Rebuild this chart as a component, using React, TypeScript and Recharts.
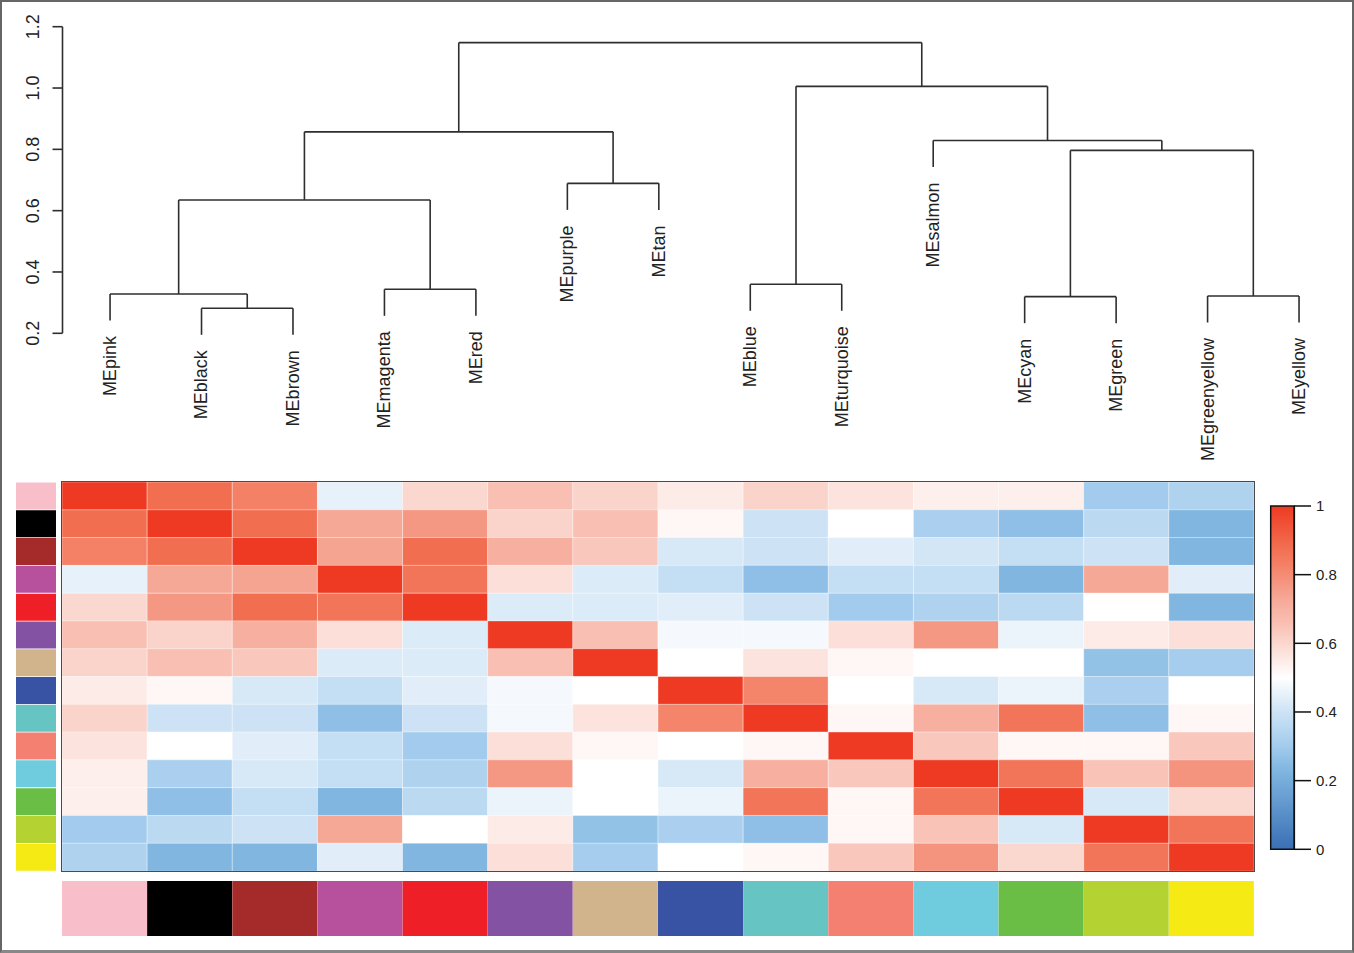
import { BarChart, Bar, Cell, ComposedChart, Scatter, XAxis, YAxis, ReferenceLine, ReferenceDot, ReferenceArea } from 'recharts'

// module eigengenes, in dendrogram / heatmap order
const moduleNames = [
  'MEpink', 'MEblack', 'MEbrown', 'MEmagenta', 'MEred', 'MEpurple', 'MEtan',
  'MEblue', 'MEturquoise', 'MEsalmon', 'MEcyan', 'MEgreen', 'MEgreenyellow', 'MEyellow',
]
const moduleColors = [
  '#F8BFCB', '#000000', '#A52A2A', '#B7509D', '#EE1F26', '#8452A2', '#D2B48C',
  '#3953A4', '#66C5C2', '#F48072', '#6FCBDE', '#6ABD45', '#B4D333', '#F6EA14',
]

// dendrogram merges: [left, right, height]; a number points to an earlier merge
type Ref = string | number
const merges: [Ref, Ref, number][] = [
  ['MEblack', 'MEbrown', 0.2815],
  ['MEpink', 0, 0.328],
  ['MEmagenta', 'MEred', 0.3435],
  [1, 2, 0.635],
  ['MEpurple', 'MEtan', 0.689],
  [3, 4, 0.857],
  ['MEblue', 'MEturquoise', 0.36],
  ['MEcyan', 'MEgreen', 0.3195],
  ['MEgreenyellow', 'MEyellow', 0.3217],
  [7, 8, 0.7967],
  ['MEsalmon', 9, 0.829],
  [6, 10, 1.0054],
  [5, 11, 1.148],
]
const HANG = 0.0865
const heightTicks = [0.2, 0.4, 0.6, 0.8, 1.0, 1.2]

// eigengene adjacency, one row per module
const pinkRow = [1, 0.88, 0.83, 0.45, 0.6, 0.66, 0.61, 0.55, 0.61, 0.57, 0.54, 0.54, 0.3, 0.33]
const blackRow = [0.88, 1, 0.88, 0.73, 0.77, 0.61, 0.66, 0.52, 0.4, 0.5, 0.32, 0.26, 0.36, 0.23]
const brownRow = [0.83, 0.88, 1, 0.74, 0.88, 0.71, 0.64, 0.42, 0.4, 0.44, 0.41, 0.38, 0.4, 0.23]
const magentaRow = [0.45, 0.73, 0.74, 1, 0.86, 0.58, 0.43, 0.38, 0.26, 0.38, 0.38, 0.23, 0.73, 0.44]
const redRow = [0.6, 0.77, 0.88, 0.86, 1, 0.43, 0.43, 0.44, 0.4, 0.3, 0.33, 0.36, 0.5, 0.23]
const purpleRow = [0.66, 0.61, 0.71, 0.58, 0.43, 1, 0.66, 0.48, 0.48, 0.58, 0.77, 0.46, 0.55, 0.58]
const tanRow = [0.61, 0.66, 0.64, 0.43, 0.43, 0.66, 1, 0.5, 0.57, 0.52, 0.5, 0.5, 0.27, 0.31]
const blueRow = [0.55, 0.52, 0.42, 0.38, 0.44, 0.48, 0.5, 1, 0.82, 0.5, 0.42, 0.46, 0.32, 0.5]
const turquoiseRow = [0.61, 0.4, 0.4, 0.26, 0.4, 0.48, 0.57, 0.82, 1, 0.52, 0.71, 0.86, 0.26, 0.52]
const salmonRow = [0.57, 0.5, 0.44, 0.38, 0.3, 0.58, 0.52, 0.5, 0.52, 1, 0.64, 0.52, 0.52, 0.64]
const cyanRow = [0.54, 0.32, 0.42, 0.38, 0.33, 0.77, 0.5, 0.42, 0.71, 0.64, 1, 0.86, 0.65, 0.78]
const greenRow = [0.54, 0.26, 0.38, 0.23, 0.36, 0.46, 0.5, 0.46, 0.86, 0.52, 0.86, 1, 0.42, 0.6]
const greenyellowRow = [0.3, 0.36, 0.4, 0.73, 0.5, 0.55, 0.27, 0.32, 0.26, 0.52, 0.65, 0.42, 1, 0.86]
const yellowRow = [0.33, 0.23, 0.23, 0.44, 0.23, 0.58, 0.31, 0.5, 0.52, 0.64, 0.78, 0.6, 0.86, 1]
const heatRows = [
  pinkRow, blackRow, brownRow, magentaRow, redRow, purpleRow, tanRow,
  blueRow, turquoiseRow, salmonRow, cyanRow, greenRow, greenyellowRow, yellowRow,
]

const legendTicks = [0, 0.2, 0.4, 0.6, 0.8, 1]
const colorStops: [number, string][] = [
  [0, '#3A70B5'], [0.23, '#80B6E0'], [0.3, '#A2CBED'], [0.4, '#CDE3F5'], [0.5, '#FFFFFF'],
  [0.61, '#FAD3CA'], [0.66, '#F9BFB2'], [0.73, '#F6A897'], [0.82, '#F4846A'], [0.88, '#F26E50'], [1, '#EE3A23'],
]

const LINE = '#2e2e2e'
const FONT = '"Liberation Sans", Arial, sans-serif'

function hexRgb(h: string) {
  return [1, 3, 5].map((i) => parseInt(h.slice(i, i + 2), 16))
}

function corrColor(v: number) {
  for (let k = 1; k < colorStops.length; k++) {
    const [v1, c1] = colorStops[k]
    const [v0, c0] = colorStops[k - 1]
    if (v <= v1) {
      const t = (v - v0) / (v1 - v0)
      const a = hexRgb(c0), b = hexRgb(c1)
      const rgb = a.map((x, i) => Math.round(x + (b[i] - x) * t))
      return `rgb(${rgb.join(',')})`
    }
  }
  return colorStops[colorStops.length - 1][1]
}

// build dendrogram segments from the merge list
const nodeX: number[] = []
const segments: { x: number; y: number }[][] = []
const leafEnds: { name: string; x: number; y: number }[] = []
const treeNodes: { x: number; y: number }[] = []
const xOf = (r: Ref) => (typeof r === 'string' ? moduleNames.indexOf(r) + 1 : nodeX[r])
merges.forEach(([a, b, h], i) => {
  const xa = xOf(a)
  const xb = xOf(b)
  nodeX[i] = (xa + xb) / 2
  treeNodes.push({ x: nodeX[i], y: h })
  const ya = typeof a === 'string' ? h - HANG : merges[a][2]
  const yb = typeof b === 'string' ? h - HANG : merges[b][2]
  if (typeof a === 'string') leafEnds.push({ name: a, x: xa, y: ya })
  if (typeof b === 'string') leafEnds.push({ name: b, x: xb, y: yb })
  segments.push([{ x: xa, y: ya }, { x: xa, y: h }])
  segments.push([{ x: xa, y: h }, { x: xb, y: h }])
  segments.push([{ x: xb, y: h }, { x: xb, y: yb }])
})

const heatTable = moduleNames.map((name) => {
  const row: Record<string, string | number> = { name }
  moduleNames.forEach((c) => { row[c] = 1 })
  return row
})
const keyTable = moduleNames.map((name) => ({ name, v: 1 }))

function HeightTick(props: any) {
  const { x, y, payload } = props
  const bx = x - 11
  return (
    <text x={bx} y={y} transform={`rotate(-90, ${bx}, ${y})`} textAnchor="middle" fontSize={18} fill="#222">
      {payload.value.toFixed(1)}
    </text>
  )
}

export default function App() {
  return (
    <div style={{ position: 'absolute', left: 0, top: 0, width: 1354, height: 953, background: '#fff', fontFamily: FONT }}>
      <div style={{ position: 'absolute', left: 0, top: 0 }}>
        <ComposedChart width={1354} height={470} margin={{ top: 26.7, right: 7.4, bottom: 136.7, left: 0 }}>
          <XAxis type="number" dataKey="x" domain={[0.48, 14.52]} allowDataOverflow hide />
          <YAxis
            type="number"
            dataKey="y"
            domain={[0.2, 1.2]}
            ticks={heightTicks}
            allowDataOverflow
            width={62.5}
            tickSize={10}
            axisLine={{ stroke: LINE, strokeWidth: 1.6 }}
            tickLine={{ stroke: LINE, strokeWidth: 1.6 }}
            tick={<HeightTick />}
          />
          <Scatter data={treeNodes} isAnimationActive={false} shape={() => <g />} />
          {segments.map((s, i) => (
            <ReferenceLine key={i} segment={s} stroke={LINE} strokeWidth={1.6} ifOverflow="visible" />
          ))}
          {leafEnds.map((l) => (
            <ReferenceDot
              key={l.name}
              x={l.x}
              y={l.y}
              r={0}
              ifOverflow="visible"
              shape={(p: any) => (
                <text
                  x={p.cx}
                  y={p.cy + 15.5}
                  dy="0.33em"
                  transform={`rotate(-90, ${p.cx}, ${p.cy + 15.5})`}
                  textAnchor="end"
                  fontSize={18}
                  fill="#222"
                >
                  {l.name}
                </text>
              )}
            />
          ))}
        </ComposedChart>
      </div>

      {/* module colour keys, left of the heatmap */}
      <div style={{ position: 'absolute', left: 16, top: 482 }}>
        <BarChart layout="vertical" width={40} height={389} data={keyTable} margin={{ top: 0, right: 0, bottom: 0, left: 0 }} barCategoryGap={0.5}>
          <XAxis type="number" domain={[0, 1]} hide />
          <YAxis type="category" dataKey="name" hide />
          <Bar dataKey="v" isAnimationActive={false}>
            {moduleColors.map((c, i) => <Cell key={i} fill={c} />)}
          </Bar>
        </BarChart>
      </div>

      {/* adjacency heatmap */}
      <div style={{ position: 'absolute', left: 60.5, top: 480.5, width: 1192, height: 389, border: '1.5px solid #4a4a4a' }}>
        <BarChart layout="vertical" width={1192} height={389} data={heatTable} margin={{ top: 0, right: 0, bottom: 0, left: 0 }} barCategoryGap={0} barGap={0}>
          <XAxis type="number" domain={[0, 14]} hide />
          <YAxis type="category" dataKey="name" hide />
          {moduleNames.map((col, j) => (
            <Bar key={col} dataKey={col} stackId="cells" isAnimationActive={false}>
              {heatRows.map((row, i) => (
                <Cell key={i} fill={corrColor(row[j])} stroke="#ffffff" strokeOpacity={0.35} strokeWidth={1} />
              ))}
            </Bar>
          ))}
        </BarChart>
      </div>

      {/* module colour keys, under the heatmap */}
      <div style={{ position: 'absolute', left: 62, top: 881 }}>
        <BarChart width={1192} height={55} data={keyTable} margin={{ top: 0, right: 0, bottom: 0, left: 0 }} barCategoryGap={0}>
          <XAxis type="category" dataKey="name" hide />
          <YAxis type="number" domain={[0, 1]} hide />
          <Bar dataKey="v" isAnimationActive={false}>
            {moduleColors.map((c, i) => <Cell key={i} fill={c} />)}
          </Bar>
        </BarChart>
      </div>

      {/* colour scale legend */}
      <div style={{ position: 'absolute', left: 1250, top: 495.7 }}>
        <ComposedChart width={104} height={363.3} margin={{ top: 10, right: 0, bottom: 10, left: 20.7 }}>
          <defs>
            <linearGradient id="corrGrad" x1="0" y1="0" x2="0" y2="1">
              {[...colorStops].reverse().map(([v, c]) => (
                <stop key={v} offset={`${(1 - v) * 100}%`} stopColor={c} />
              ))}
            </linearGradient>
          </defs>
          <XAxis type="number" dataKey="x" domain={[0, 1]} hide />
          <YAxis
            type="number"
            dataKey="y"
            orientation="right"
            domain={[0, 1]}
            ticks={legendTicks}
            width={59.7}
            tickSize={16.7}
            tickMargin={5}
            axisLine={{ stroke: '#111', strokeWidth: 1.5 }}
            tickLine={{ stroke: '#111', strokeWidth: 1.5 }}
            tick={{ fill: '#222', fontSize: 15 }}
          />
          <Scatter data={legendTicks.map((v) => ({ x: 0.5, y: v }))} isAnimationActive={false} shape={() => <g />} />
          <ReferenceArea x1={0} x2={1} y1={0} y2={1} fill="url(#corrGrad)" fillOpacity={1} stroke="#111" strokeWidth={1.5} ifOverflow="visible" />
        </ComposedChart>
      </div>

      <div
        style={{
          position: 'absolute', left: 0, top: 0, width: 1354, height: 953, boxSizing: 'border-box',
          borderTop: '2px solid #666', borderLeft: '2px solid #666', borderRight: '2px solid #666',
          borderBottom: '3px solid #888', pointerEvents: 'none',
        }}
      />
    </div>
  )
}
